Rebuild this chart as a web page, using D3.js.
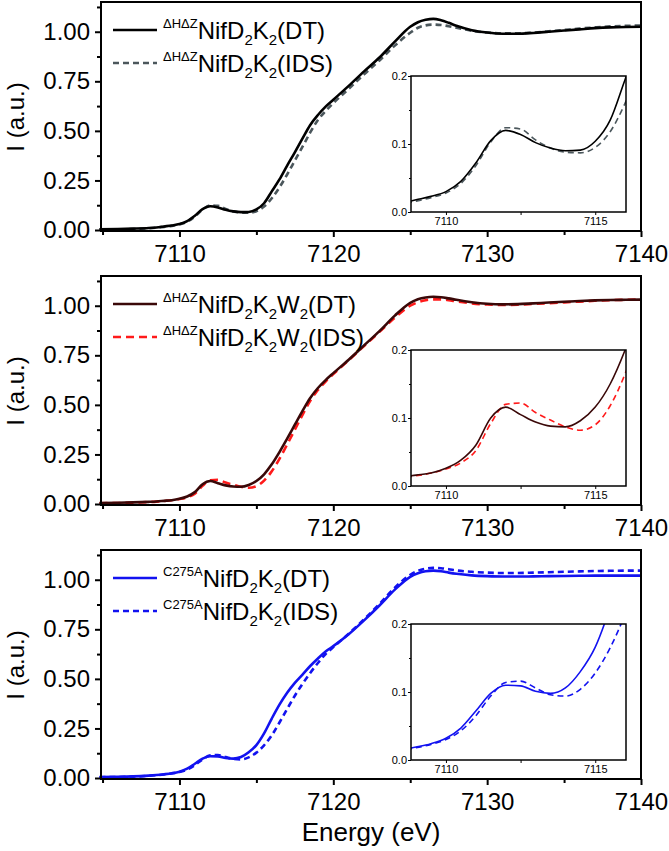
<!DOCTYPE html>
<html>
<head>
<meta charset="utf-8">
<script src="https://cdn.jsdelivr.net/npm/d3@7"></script>
<style>
  body { margin: 0; background: #fff; }
  text { font-family: "Liberation Sans", Arial, sans-serif; fill: #000; }
</style>
</head>
<body>
<script>
// énergies communes (eV)
const energy = [7104.8, 7106, 7107, 7108, 7108.5, 7109, 7109.5, 7110, 7110.5, 7111, 7111.5, 7112, 7112.5, 7113, 7113.5, 7114, 7114.5, 7115, 7115.5, 7116, 7116.5, 7117, 7117.5, 7118, 7118.5, 7119, 7119.5, 7120, 7121, 7122, 7123, 7124, 7125, 7125.5, 7126, 7126.5, 7127, 7127.5, 7128, 7129, 7130, 7131, 7132, 7133, 7134, 7135, 7136, 7137, 7138, 7139, 7140]

// panneau 1 : ΔHΔZ NifD2K2
const p1dt = [0.004, 0.005, 0.007, 0.010, 0.013, 0.018, 0.023, 0.030, 0.045, 0.072, 0.105, 0.120, 0.114, 0.102, 0.094, 0.090, 0.091, 0.104, 0.135, 0.195, 0.255, 0.325, 0.392, 0.462, 0.530, 0.580, 0.622, 0.657, 0.727, 0.800, 0.870, 0.950, 1.025, 1.048, 1.060, 1.065, 1.058, 1.045, 1.030, 1.008, 0.996, 0.990, 0.990, 0.994, 1.000, 1.006, 1.012, 1.018, 1.022, 1.024, 1.025]
const p1ids = [0.002, 0.003, 0.005, 0.009, 0.012, 0.016, 0.021, 0.028, 0.042, 0.068, 0.103, 0.124, 0.122, 0.106, 0.094, 0.088, 0.087, 0.095, 0.118, 0.160, 0.215, 0.280, 0.350, 0.420, 0.492, 0.555, 0.600, 0.640, 0.712, 0.785, 0.855, 0.930, 0.995, 1.020, 1.032, 1.036, 1.034, 1.028, 1.020, 1.005, 0.996, 0.992, 0.992, 0.996, 1.002, 1.009, 1.016, 1.022, 1.027, 1.030, 1.031]

// panneau 2 : ΔHΔZ NifD2K2W2
const p2dt = [0.005, 0.006, 0.008, 0.011, 0.013, 0.016, 0.019, 0.026, 0.038, 0.060, 0.100, 0.116, 0.105, 0.094, 0.088, 0.087, 0.096, 0.116, 0.150, 0.200, 0.262, 0.330, 0.400, 0.470, 0.535, 0.585, 0.625, 0.660, 0.728, 0.800, 0.872, 0.950, 1.015, 1.033, 1.042, 1.045, 1.043, 1.037, 1.030, 1.018, 1.010, 1.007, 1.008, 1.012, 1.016, 1.020, 1.024, 1.027, 1.029, 1.030, 1.031]
const p2ids = [0.004, 0.005, 0.007, 0.010, 0.012, 0.015, 0.019, 0.025, 0.034, 0.052, 0.092, 0.120, 0.122, 0.108, 0.097, 0.087, 0.082, 0.090, 0.118, 0.165, 0.228, 0.300, 0.375, 0.450, 0.520, 0.575, 0.618, 0.655, 0.725, 0.797, 0.868, 0.940, 1.000, 1.018, 1.028, 1.032, 1.032, 1.028, 1.022, 1.012, 1.006, 1.004, 1.005, 1.009, 1.013, 1.017, 1.021, 1.025, 1.028, 1.030, 1.031]

// panneau 3 : C275A NifD2K2
const p3dt = [0.005, 0.006, 0.008, 0.012, 0.015, 0.019, 0.024, 0.032, 0.047, 0.072, 0.098, 0.110, 0.109, 0.101, 0.098, 0.106, 0.130, 0.166, 0.225, 0.300, 0.370, 0.430, 0.480, 0.522, 0.565, 0.603, 0.638, 0.665, 0.725, 0.795, 0.870, 0.950, 1.015, 1.033, 1.043, 1.046, 1.043, 1.036, 1.030, 1.022, 1.018, 1.016, 1.016, 1.017, 1.018, 1.019, 1.020, 1.021, 1.021, 1.021, 1.021]
const p3ids = [0.004, 0.005, 0.007, 0.011, 0.014, 0.018, 0.023, 0.030, 0.043, 0.065, 0.094, 0.114, 0.116, 0.106, 0.096, 0.094, 0.104, 0.128, 0.165, 0.215, 0.280, 0.348, 0.415, 0.475, 0.530, 0.580, 0.625, 0.660, 0.728, 0.800, 0.878, 0.960, 1.025, 1.045, 1.056, 1.060, 1.058, 1.053, 1.047, 1.040, 1.036, 1.034, 1.034, 1.036, 1.038, 1.040, 1.042, 1.044, 1.045, 1.046, 1.046]

// graduations
const xMajor = [7110, 7120, 7130, 7140]
const xMinor = [7105, 7115, 7125, 7135]
const yMajor = [0, 0.25, 0.5, 0.75, 1.0]
const yMinor = [0.125, 0.375, 0.625, 0.875, 1.125]
const ixMajor = [7110, 7115]
const ixMinor = [7112.5]
const iyMajor = [0, 0.1, 0.2]
const iyMinor = [0.05, 0.15]

const panels = [
  { top: 2, dt: p1dt, ids: p1ids, sup: 'ΔHΔZ', w2: false, cDt: '#000000', cIds: '#4b575c', dash: '6,4' },
  { top: 276, dt: p2dt, ids: p2ids, sup: 'ΔHΔZ', w2: true, cDt: '#3a0808', cIds: '#ff1a1a', dash: '8,5' },
  { top: 550, dt: p3dt, ids: p3ids, sup: 'C275A', w2: false, cDt: '#1212f0', cIds: '#1212f0', dash: '6,4' }
]

const svg = d3.select('body')
  .append('svg')
  .attr('width', 669)
  .attr('height', 851)

const x = d3.scaleLinear().domain([7104.9, 7140]).range([101, 641])
const xi = d3.scaleLinear().domain([7108.83, 7116.03]).range([411, 626])

function styleAxis(g, size) {
  g.select('.domain').remove()
  g.selectAll('line').attr('stroke', '#000').attr('stroke-width', 2)
  g.selectAll('text').attr('font-size', size).attr('fill', '#000')
}

// ajoute une légende avec exposant et indices
function legendText(g, tx, ty, p, kind) {
  const t = g.append('text').attr('x', tx).attr('y', ty)
  t.append('tspan').attr('font-size', 13).attr('dy', -11).text(p.sup)
  t.append('tspan').attr('font-size', 24).attr('dy', 11).text('NifD')
  t.append('tspan').attr('font-size', 15).attr('dy', 6).text('2')
  t.append('tspan').attr('font-size', 24).attr('dy', -6).text('K')
  t.append('tspan').attr('font-size', 15).attr('dy', 6).text('2')
  if (p.w2) {
    t.append('tspan').attr('font-size', 24).attr('dy', -6).text('W')
    t.append('tspan').attr('font-size', 15).attr('dy', 6).text('2')
  }
  t.append('tspan').attr('font-size', 24).attr('dy', -6).text(`(${kind})`)
}

panels.forEach((p, i) => {
  const top = p.top
  const y = d3.scaleLinear().domain([-0.005, 1.15]).range([top + 229, top])
  const g = svg.append('g').attr('id', `panel${i + 1}`)

  const pts = (vals) => energy.map((e, k) => [e, vals[k]])

  const line = d3.line()
    .x(d => x(d[0]))
    .y(d => y(d[1]))
    .curve(d3.curveMonotoneX)

  // courbes principales
  g.append('path').datum(pts(p.ids))
    .attr('d', line).attr('fill', 'none')
    .attr('stroke', p.cIds).attr('stroke-width', 2.6)
    .attr('stroke-dasharray', p.dash)
  g.append('path').datum(pts(p.dt))
    .attr('d', line).attr('fill', 'none')
    .attr('stroke', p.cDt).attr('stroke-width', 2.6)

  // axes
  const ax = g.append('g').attr('transform', `translate(0,${top + 229})`)
    .call(d3.axisBottom(x).tickValues(xMajor).tickSize(6).tickPadding(8).tickFormat(d3.format('d')))
  styleAxis(ax, 24)
  const axm = g.append('g').attr('transform', `translate(0,${top + 229})`)
    .call(d3.axisBottom(x).tickValues(xMinor).tickSize(4).tickFormat(''))
  styleAxis(axm, 24)

  const ay = g.append('g').attr('transform', 'translate(101,0)')
    .call(d3.axisLeft(y).tickValues(yMajor).tickSize(6).tickPadding(5).tickFormat(d3.format('.2f')))
  styleAxis(ay, 24)
  const aym = g.append('g').attr('transform', 'translate(101,0)')
    .call(d3.axisLeft(y).tickValues(yMinor).tickSize(4).tickFormat(''))
  styleAxis(aym, 24)

  g.append('rect')
    .attr('x', 101).attr('y', top)
    .attr('width', 641 - 101).attr('height', 229)
    .attr('fill', 'none').attr('stroke', '#000').attr('stroke-width', 2)

  g.append('text')
    .attr('transform', `translate(24,${top + 115}) rotate(-90)`)
    .attr('text-anchor', 'middle')
    .attr('font-size', 24)
    .text('I (a.u.)')

  // légende
  g.append('line').attr('x1', 113).attr('x2', 157).attr('y1', top + 28).attr('y2', top + 28)
    .attr('stroke', p.cDt).attr('stroke-width', 2.6)
  g.append('line').attr('x1', 113).attr('x2', 157).attr('y1', top + 61).attr('y2', top + 61)
    .attr('stroke', p.cIds).attr('stroke-width', 2.6).attr('stroke-dasharray', p.dash)
  legendText(g, 163, top + 37, p, 'DT')
  legendText(g, 163, top + 70, p, 'IDS')

  // encart
  const yi = d3.scaleLinear().domain([0, 0.2]).range([top + 210, top + 74])
  const gi = g.append('g').attr('class', 'inset')
  gi.append('rect')
    .attr('x', 411).attr('y', top + 74)
    .attr('width', 626 - 411).attr('height', 136)
    .attr('fill', '#fff')

  svg.append('clipPath').attr('id', `clip${i}`)
    .append('rect').attr('x', 411).attr('y', top + 74).attr('width', 215).attr('height', 136)

  const lineI = d3.line()
    .x(d => xi(d[0]))
    .y(d => yi(d[1]))
    .curve(d3.curveMonotoneX)
  const inRange = d => d[0] >= 7108 && d[0] <= 7117

  const gc = gi.append('g').attr('clip-path', `url(#clip${i})`)
  gc.append('path').datum(pts(p.ids).filter(inRange))
    .attr('d', lineI).attr('fill', 'none')
    .attr('stroke', p.cIds).attr('stroke-width', 1.6)
    .attr('stroke-dasharray', '6,4')
  gc.append('path').datum(pts(p.dt).filter(inRange))
    .attr('d', lineI).attr('fill', 'none')
    .attr('stroke', p.cDt).attr('stroke-width', 1.6)

  const ix = gi.append('g').attr('transform', `translate(0,${top + 210})`)
    .call(d3.axisBottom(xi).tickValues(ixMajor).tickSize(3).tickPadding(2).tickFormat(d3.format('d')))
  styleAxis(ix, 11)
  ix.selectAll('line').attr('stroke-width', 1)
  const ixm = gi.append('g').attr('transform', `translate(0,${top + 210})`)
    .call(d3.axisBottom(xi).tickValues(ixMinor).tickSize(3).tickFormat(''))
  styleAxis(ixm, 11)
  ixm.selectAll('line').attr('stroke-width', 1)

  const iy = gi.append('g').attr('transform', 'translate(411,0)')
    .call(d3.axisLeft(yi).tickValues(iyMajor).tickSize(3).tickPadding(1).tickFormat(d3.format('.1f')))
  styleAxis(iy, 11)
  iy.selectAll('line').attr('stroke-width', 1)
  const iym = gi.append('g').attr('transform', 'translate(411,0)')
    .call(d3.axisLeft(yi).tickValues(iyMinor).tickSize(2).tickFormat(''))
  styleAxis(iym, 11)
  iym.selectAll('line').attr('stroke-width', 1)

  gi.append('rect')
    .attr('x', 411).attr('y', top + 74)
    .attr('width', 626 - 411).attr('height', 136)
    .attr('fill', 'none').attr('stroke', '#000').attr('stroke-width', 1.5)
})

svg.append('text')
  .attr('x', 371).attr('y', 841)
  .attr('text-anchor', 'middle')
  .attr('font-size', 26)
  .text('Energy (eV)')
</script>
</body>
</html>
